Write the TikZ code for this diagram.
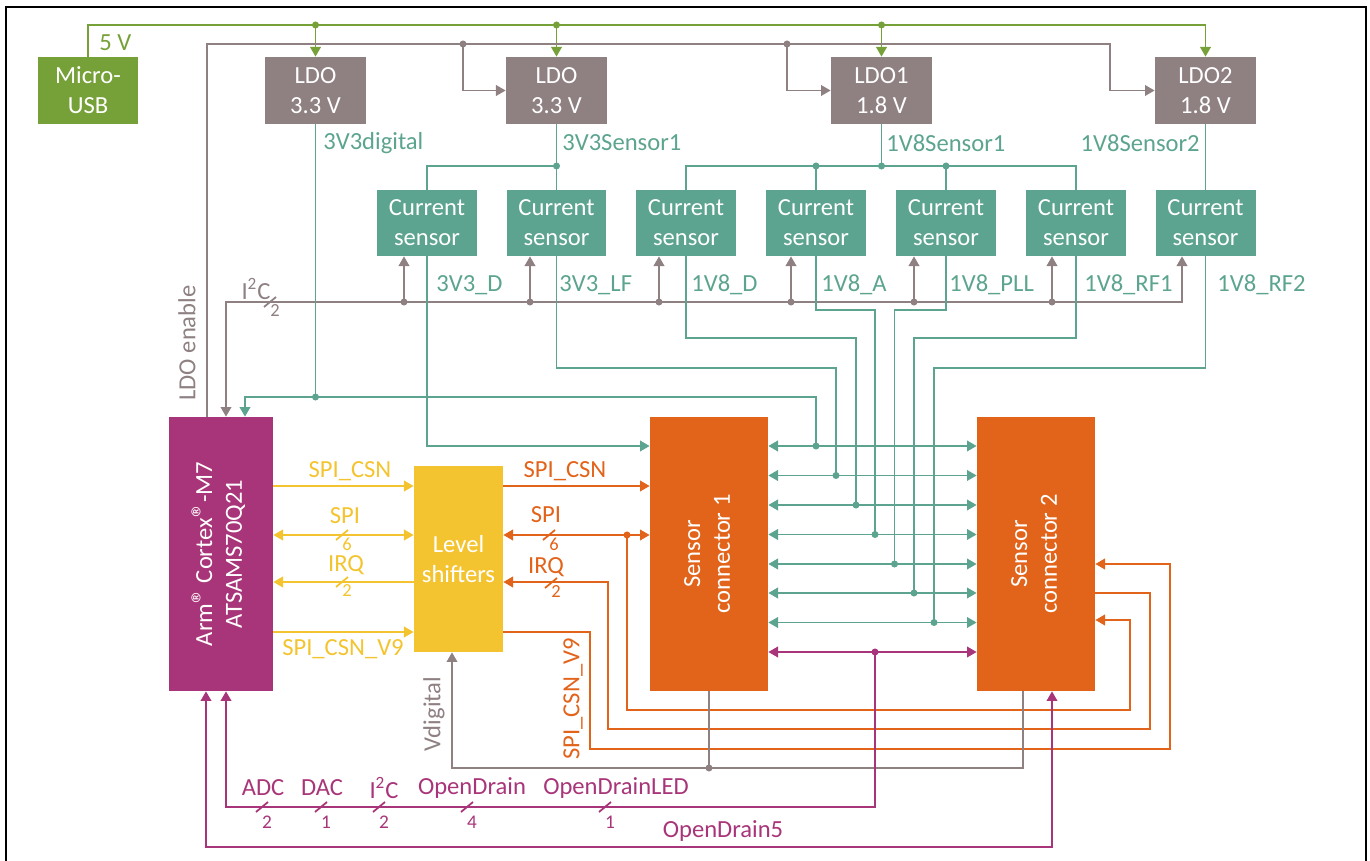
\documentclass[tikz,border=0pt]{standalone}
\usepackage{fontspec}
\setmainfont{Carlito}
\usepackage{graphicx}
\usetikzlibrary{positioning,arrows.meta,calc}
\definecolor{UsbGreen}{RGB}{118,160,56}
\definecolor{LdoGray}{RGB}{143,128,130}
\definecolor{SensTeal}{RGB}{92,164,143}
\definecolor{ConnOrange}{RGB}{226,99,26}
\definecolor{ShiftYellow}{RGB}{244,196,48}
\definecolor{McuPurple}{RGB}{168,53,121}
\newcommand{\vtext}[1]{\rotatebox{90}{\begin{tabular}{@{}c@{}}#1\end{tabular}}}
\newcommand{\regmark}{{\fontsize{17pt}{17pt}\selectfont ®}}

\begin{document}
\begin{tikzpicture}[x=0.02cm, y=-0.02cm,
    font=\fontsize{14pt}{17pt}\selectfont,
    block/.style={rectangle, inner sep=0pt, text=white, align=center},
    usbbox/.style={block, fill=UsbGreen, minimum width=2cm, minimum height=1.34cm},
    ldobox/.style={block, fill=LdoGray, minimum width=2.02cm, minimum height=1.34cm},
    sensbox/.style={block, fill=SensTeal, minimum width=2cm, minimum height=1.32cm},
    connbox/.style={block, fill=ConnOrange, minimum width=2.36cm, minimum height=5.48cm},
    wire/.style={line width=1.1pt},
    grn/.style={wire, UsbGreen},
    gry/.style={wire, LdoGray},
    tl/.style={wire, SensTeal},
    org/.style={wire, ConnOrange},
    ylw/.style={wire, ShiftYellow},
    mag/.style={wire, McuPurple},
    arr/.style={-{Triangle[length=5.5pt,width=6pt]}},
    both/.style={{Triangle[length=5.5pt,width=6pt]}-{Triangle[length=5.5pt,width=6pt]}},
    lab/.style={inner sep=0pt},
    pics/bus/.style={code={
        \draw[line width=1pt] (-0.12cm,-0.1cm) -- (0.12cm,0.1cm);
        \node[inner sep=0pt, font=\fontsize{10.5pt}{12pt}\selectfont] (-n) at (0.1cm,-0.18cm) {#1};
    }},
    pics/lowbus/.style={code={
        \draw[line width=1pt] (-0.12cm,-0.1cm) -- (0.12cm,0.1cm);
        \node[inner sep=0pt, font=\fontsize{11pt}{13pt}\selectfont] (-n) at (0.1cm,-0.31cm) {#1};
    }},
]
\useasboundingbox (0,0) rectangle (1370,861);
\draw[line width=1.4pt] (6,861) -- (6,7) -- (1366,7) -- (1366,861);

% supply blocks
\node[usbbox] (usb) at (88,90.5) {Micro-\\USB};
\node[ldobox] (ldoA) at (315.5,90.5) {LDO\\3.3 V};
\node[ldobox] (ldoB) at (556.5,90.5) {LDO\\3.3 V};
\node[ldobox] (ldoC) at (881.5,90.5) {LDO1\\1.8 V};
\node[ldobox] (ldoD) at (1205.5,90.5) {LDO2\\1.8 V};

\foreach \n/\xx in {1/427,2/556.5,3/686,4/816,5/946,6/1076,7/1205.5}
    \node[sensbox] (s\n) at (\xx,223) {Current\\sensor};

\node[block, fill=McuPurple, minimum width=2.08cm, minimum height=5.48cm] (mcu) at (221,554)
    {\vtext{Arm\regmark\ Cortex\regmark-M7\\ATSAMS70Q21}};
\node[block, fill=ShiftYellow, minimum width=1.78cm, minimum height=3.72cm] (ls) at (458.5,559) {Level\\shifters};
\node[connbox] (sc1) at (709,554) {\vtext{Sensor\\connector 1}};
\node[connbox] (sc2) at (1036,554) {\vtext{Sensor\\connector 2}};

% 5 V
\coordinate (v5) at (88,25);
\draw[grn, arr] (usb.north) -- (v5) -| (ldoD.north);
\foreach \t in {ldoA,ldoB,ldoC} {
    \draw[grn, arr] (v5 -| \t.north) -- (\t.north);
    \fill[UsbGreen] (v5 -| \t.north) circle (2pt);
}
\node[lab, text=UsbGreen, anchor=west] (l5v) at (99,43) {5 V};

% LDO enable
\coordinate (enB) at (463,44);
\coordinate (enC) at (787,44);
\coordinate (enD) at (1110,44);
\draw[gry, arr] ([xshift=-0.28cm]mcu.north) |- (enD) |- (ldoD.west);
\draw[gry, arr] (enB) |- (ldoB.west);
\draw[gry, arr] (enC) |- (ldoC.west);
\fill[LdoGray] (enB) circle (2pt) (enC) circle (2pt);
\node[lab, text=LdoGray, rotate=90] (len) at (187,343) {LDO enable};

% sensor supplies
\coordinate (dB) at (556.5,166);
\coordinate (dC) at (881.5,166);
\draw[tl] (ldoB.south) -- (s2.north);
\draw[tl] (dB) -| (s1.north);
\draw[tl] (ldoC.south) -- (dC);
\draw[tl] (s3.north) |- (dC) -| (s6.north);
\draw[tl] (s4.north) -- (s4.north |- dC);
\draw[tl] (s5.north) -- (s5.north |- dC);
\draw[tl] (ldoD.south) -- (s7.north);
\fill[SensTeal] (dB) circle (2pt) (dC) circle (2pt) (s4.north |- dC) circle (2pt) (s5.north |- dC) circle (2pt);

\node[lab, text=SensTeal, anchor=west] (l3d) at (323,143) {3V3digital};
\node[lab, text=SensTeal, anchor=west] (l3s) at (562,143) {3V3Sensor1};
\node[lab, text=SensTeal, anchor=west] (l1s) at (886,143) {1V8Sensor1};
\node[lab, text=SensTeal, anchor=east] (l2s) at (1200,143) {1V8Sensor2};

% I2C to current sensors
\coordinate (ic) at (226,302);
\draw[gry, both] ([xshift=-0.47cm]s7.south) |- (ic) -- (mcu.north -| ic);
\foreach \i/\xx in {1/404,2/530,3/659,4/791,5/914,6/1052} {
    \coordinate (a\i) at (\xx,302);
    \draw[gry, arr] (a\i) -- (a\i |- s\i.south);
    \fill[LdoGray] (a\i) circle (2pt);
}
\node[lab, text=LdoGray] (li2c) at (256,289) {I\textsuperscript{2}C};
\pic[color=LdoGray] (bI) at (270,302) {bus=2};

% measured rails
\foreach \i/\xx/\yy in {1/816/446,2/836/475.5,3/856/505,4/875/534.5,5/894.5/564,6/914/593,7/934/622.5}
    \coordinate (t\i) at (\xx,\yy);
\coordinate (dig) at (315.5,397);
\draw[tl] (ldoA.south) -- (dig);
\draw[tl, arr] (dig) -| ([xshift=0.48cm]mcu.north);
\draw[tl] (dig) -| (t1);
\fill[SensTeal] (dig) circle (2pt);
\draw[tl, arr] (s1.south) |- (sc1.west |- t1);
\foreach \i/\xx/\yy in {2/836/368,3/856/338,4/875/310,5/894.5/310,6/914/338,7/934/368} {
    \coordinate (k\i) at (\xx,\yy);
    \draw[tl] (s\i.south) |- (k\i) -- (t\i);
}
\foreach \i in {1,...,7} {
    \draw[tl, both] (sc1.east |- t\i) -- (sc2.west |- t\i);
    \fill[SensTeal] (t\i) circle (2pt);
}

\node[lab, text=SensTeal, anchor=west] (r1) at (436,285) {3V3\_D};
\node[lab, text=SensTeal, anchor=west] (r2) at (559,285) {3V3\_LF};
\node[lab, text=SensTeal, anchor=west] (r3) at (691,285) {1V8\_D};
\node[lab, text=SensTeal, anchor=west] (r4) at (821,285) {1V8\_A};
\node[lab, text=SensTeal, anchor=west] (r5) at (949,285) {1V8\_PLL};
\node[lab, text=SensTeal, anchor=west] (r6) at (1084,285) {1V8\_RF1};
\node[lab, text=SensTeal, anchor=west] (r7) at (1217,285) {1V8\_RF2};

% MCU <-> level shifters
\coordinate (yCsn) at (0,486);
\coordinate (ySpi) at (0,535);
\coordinate (yIrq) at (0,582);
\coordinate (yV9) at (0,632);
\draw[ylw, arr] (mcu.east |- yCsn) -- (ls.west |- yCsn);
\draw[ylw, both] (mcu.east |- ySpi) -- (ls.west |- ySpi);
\draw[ylw, arr] (ls.west |- yIrq) -- (mcu.east |- yIrq);
\draw[ylw, arr] (mcu.east |- yV9) -- (ls.west |- yV9);
\node[lab, text=ShiftYellow] (yl1) at (350,471) {SPI\_CSN};
\node[lab, text=ShiftYellow] (yl2) at (345,516) {SPI};
\pic[color=ShiftYellow] (bY1) at (342,535) {bus=6};
\node[lab, text=ShiftYellow] (yl3) at (346,565) {IRQ};
\pic[color=ShiftYellow] (bY2) at (342,582) {bus=2};
\node[lab, text=ShiftYellow] (yl4) at (343,649) {SPI\_CSN\_V9};

% level shifters <-> sensor connectors
\coordinate (spd) at (627,535);
\coordinate (rSpi) at (1130,710);
\coordinate (ySpiB) at (0,620);
\coordinate (yIrqB) at (0,593);
\coordinate (rIrq) at (1150,729);
\coordinate (lIrq) at (608,729);
\coordinate (yV9B) at (0,564);
\coordinate (lV9) at (590,749);
\coordinate (rV9) at (1170,749);
\draw[org, arr] (ls.east |- yCsn) -- (sc1.west |- yCsn);
\draw[org, both] (ls.east |- ySpi) -- (sc1.west |- ySpi);
\draw[org, arr] (spd) |- (rSpi) |- (sc2.east |- ySpiB);
\fill[ConnOrange] (spd) circle (2pt);
\draw[org, arr] (sc2.east |- yIrqB) -| (rIrq) -- (lIrq) |- (ls.east |- yIrq);
\draw[org, arr] (ls.east |- yV9) -| (lV9) -- (rV9) |- (sc2.east |- yV9B);
\node[lab, text=ConnOrange] (ol1) at (565,471) {SPI\_CSN};
\node[lab, text=ConnOrange] (ol2) at (546,515) {SPI};
\pic[color=ConnOrange] (bO1) at (549,535) {bus=6};
\node[lab, text=ConnOrange] (ol3) at (546,567) {IRQ};
\pic[color=ConnOrange] (bO2) at (551,583) {bus=2};
\node[lab, text=ConnOrange, rotate=90] (ol4) at (573,699) {SPI\_CSN\_V9};

% Vdigital
\coordinate (vd) at (709,768);
\draw[gry, arr] ([xshift=-0.26cm]sc2.south) |- (vd) -| ([xshift=-0.13cm]ls.south);
\draw[gry] (sc1.south) -- (vd);
\fill[LdoGray] (vd) circle (2pt);
\node[lab, text=LdoGray, rotate=90] (lvd) at (434,714) {Vdigital};

% analog / open drain
\coordinate (md) at (875,652);
\coordinate (mb) at (226,807);
\coordinate (od) at (1052,847);
\draw[mag, both] (sc1.east |- md) -- (sc2.west |- md);
\draw[mag, arr] (md) |- (mb) -- (mcu.south -| mb);
\fill[McuPurple] (md) circle (2pt);
\draw[mag, both] ([xshift=-0.3cm]mcu.south) |- (od) -- (sc2.south -| od);
\node[lab, text=McuPurple] (m1) at (263,788) {ADC};
\node[lab, text=McuPurple] (m2) at (322,788) {DAC};
\node[lab, text=McuPurple] (m3) at (384,788) {I\textsuperscript{2}C};
\node[lab, text=McuPurple] (m4) at (472,788) {OpenDrain};
\node[lab, text=McuPurple] (m5) at (616,788) {OpenDrainLED};
\node[lab, text=McuPurple] (m6) at (723,831) {OpenDrain5};
\pic[color=McuPurple] (bM1) at (262,807) {lowbus=2};
\pic[color=McuPurple] (bM2) at (321,807) {lowbus=1};
\pic[color=McuPurple] (bM3) at (379,807) {lowbus=2};
\pic[color=McuPurple] (bM4) at (467,807) {lowbus=4};
\pic[color=McuPurple] (bM5) at (605,807) {lowbus=1};
\end{tikzpicture}
\end{document}
